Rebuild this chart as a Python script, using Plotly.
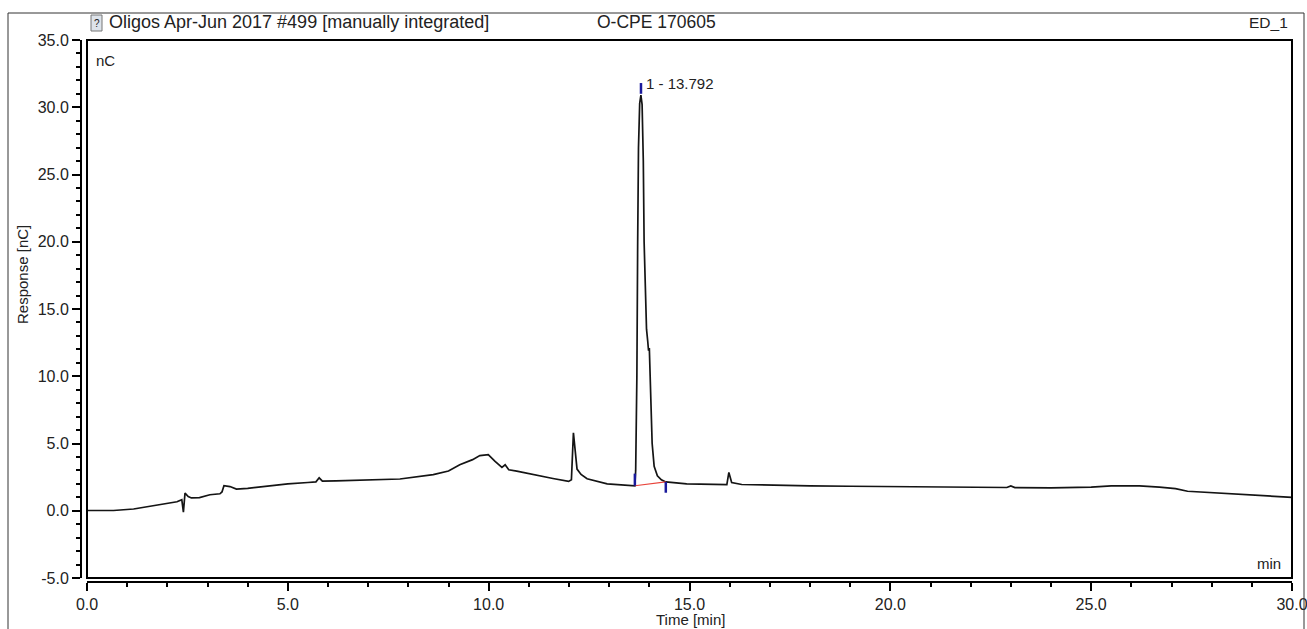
import plotly.graph_objects as go

# chromatogram trace
time_min = [0, 0.66, 1.16, 1.66, 2.0, 2.24, 2.36, 2.40, 2.44, 2.52, 2.6, 2.8,
            3.06, 3.31, 3.36, 3.41, 3.56, 3.72, 4.0, 4.5, 5.0, 5.5, 5.7, 5.78,
            5.86, 6.2, 7.0, 7.79, 8.62, 9.0, 9.28, 9.6, 9.78, 9.99, 10.16,
            10.33, 10.41, 10.5, 10.7, 11.12, 11.6, 11.99, 12.06, 12.11, 12.15,
            12.2, 12.3, 12.45, 12.95, 13.3, 13.6, 13.64, 13.66, 13.69, 13.71,
            13.73, 13.76, 13.79, 13.82, 13.85, 13.87, 13.90, 13.93, 13.96,
            13.98, 14.00, 14.03, 14.07, 14.12, 14.2, 14.3, 14.41, 14.93, 15.5,
            15.93, 15.98, 16.05, 16.3, 17.0, 18.0, 19.0, 20.0, 21.0, 22.0,
            22.9, 23.0, 23.1, 24.0, 24.5, 25.0, 25.5, 26.2, 26.7, 27.1, 27.4,
            28.0, 29.0, 30.0]
response_nc = [0.02, 0.02, 0.13, 0.37, 0.52, 0.67, 0.82, -0.1, 1.31, 1.05,
               0.95, 0.98, 1.19, 1.26, 1.4, 1.86, 1.8, 1.61, 1.66, 1.85, 2.0,
               2.1, 2.15, 2.45, 2.2, 2.22, 2.3, 2.36, 2.68, 2.95, 3.42, 3.8,
               4.1, 4.17, 3.67, 3.23, 3.42, 3.05, 2.95, 2.68, 2.4, 2.18, 2.3,
               5.8, 4.5, 3.1, 2.7, 2.38, 2.0, 1.92, 1.86, 1.86, 3.0, 10.0,
               20.0, 27.0, 30.3, 30.9, 30.2, 26.0, 20.0, 15.5, 13.5, 12.6,
               11.9, 12.1, 8.5, 5.0, 3.3, 2.6, 2.3, 2.14, 2.0, 1.98, 1.95,
               2.85, 2.1, 1.95, 1.9, 1.85, 1.82, 1.8, 1.77, 1.75, 1.73, 1.85,
               1.72, 1.7, 1.7, 1.75, 1.85, 1.85, 1.75, 1.65, 1.45, 1.35, 1.2,
               1.0]

# integration of peak 1
peak_start = [13.64, 1.86]
peak_end = [14.41, 2.14]
peak_apex = [13.792, 31.0]
peak_label = "1 - 13.792"

x_ticks = [0, 5, 10, 15, 20, 25, 30]
y_ticks = [-5, 0, 5, 10, 15, 20, 25, 30, 35]

fig = go.Figure()
fig.add_trace(go.Scatter(x=time_min, y=response_nc, mode="lines",
                         line=dict(color="#141414", width=1.7),
                         hoverinfo="skip"))
# baseline under the peak
fig.add_trace(go.Scatter(x=[peak_start[0], peak_end[0]],
                         y=[peak_start[1], peak_end[1]], mode="lines",
                         line=dict(color="#e8433a", width=1.2)))
# delimiter ticks
blue = "#1a1a9c"
fig.add_trace(go.Scatter(x=[peak_start[0], peak_start[0]],
                         y=[peak_start[1], peak_start[1] + 0.9], mode="lines",
                         line=dict(color=blue, width=2.5)))
fig.add_trace(go.Scatter(x=[peak_end[0], peak_end[0]],
                         y=[peak_end[1], peak_end[1] - 0.8], mode="lines",
                         line=dict(color=blue, width=2.5)))
fig.add_trace(go.Scatter(x=[peak_apex[0], peak_apex[0]],
                         y=[peak_apex[1], peak_apex[1] + 0.8], mode="lines",
                         line=dict(color=blue, width=2.5)))
fig.add_annotation(x=peak_apex[0], y=peak_apex[1] + 0.8, text=peak_label,
                   showarrow=False, xanchor="left", yanchor="middle",
                   xshift=3, font=dict(size=15, color="#222"))

W, H = 1307, 629
L, R, T, B = 81, 15, 40, 47
pw, ph = W - L - R, H - T - B


def px(x):
    return (x - L) / pw


def py(y):
    return (H - B - y) / ph


def label(x, y, text, size, xanchor="center", **kw):
    fig.add_annotation(xref="paper", yref="paper", x=px(x), y=py(y),
                       text=text, showarrow=False, xanchor=xanchor,
                       yanchor="middle", font=dict(size=size, color="#222"),
                       **kw)


axis_common = dict(showline=True, linecolor="black", linewidth=2,
                   ticks="outside", tickcolor="black", tickwidth=2,
                   ticklen=8, showgrid=False, zeroline=False,
                   automargin=False, ticklabeloverflow="allow",
                   tickfont=dict(family="Arial, Liberation Sans", size=16,
                                 color="#222"))

fig.update_layout(
    width=W, height=H, showlegend=False,
    margin=dict(l=L, r=R, t=T, b=B, autoexpand=False),
    plot_bgcolor="white", paper_bgcolor="white",
    font=dict(family="Arial, Liberation Sans", color="#222"),
    xaxis=dict(axis_common, range=[0, 30], domain=[px(87), 1],
               anchor="free", position=0, tickvals=x_ticks,
               ticktext=[f"{v:.1f}" for v in x_ticks],
               minor=dict(dtick=1, ticks="outside", ticklen=4,
                          tickcolor="black", tickwidth=2)),
    yaxis=dict(axis_common, range=[-5, 35], domain=[py(578), 1],
               anchor="free", position=0, tickvals=y_ticks,
               ticktext=[f"{v:.1f}" for v in y_ticks],
               minor=dict(dtick=1, ticks="outside", ticklen=4,
                          tickcolor="black", tickwidth=2)),
)

# axis titles placed by hand
label(22, 275, "Response [nC]", 15, textangle=-90)
label(690, 619, "Time [min]", 15)

# plot frame and outer border
fig.add_shape(type="rect", xref="paper", yref="paper",
              x0=px(87), x1=px(1292), y0=py(578), y1=py(40),
              line=dict(color="black", width=2))
fig.add_shape(type="rect", xref="paper", yref="paper",
              x0=px(8), x1=px(1304), y0=py(13), y1=py(660),
              line=dict(color="#333", width=1))

# header texts
fig.add_shape(type="rect", xref="paper", yref="paper",
              x0=px(91), x1=px(102), y0=py(31), y1=py(15),
              line=dict(color="#777", width=1), fillcolor="#dde3ea")
label(96.5, 23, "?", 10)
label(107, 22, "Oligos Apr-Jun 2017 #499 [manually integrated]", 18,
      xanchor="left")
label(656, 22, "O-CPE 170605", 17.5)
label(1290, 22, "ED_1", 15.5, xanchor="right")
label(94, 60, "nC", 15, xanchor="left")
label(1283, 563, "min", 15, xanchor="right")

fig.write_html("out.html", config={"displayModeBar": False},
               post_script="document.body.style.margin='0';"
                           "document.body.style.overflow='hidden';")
